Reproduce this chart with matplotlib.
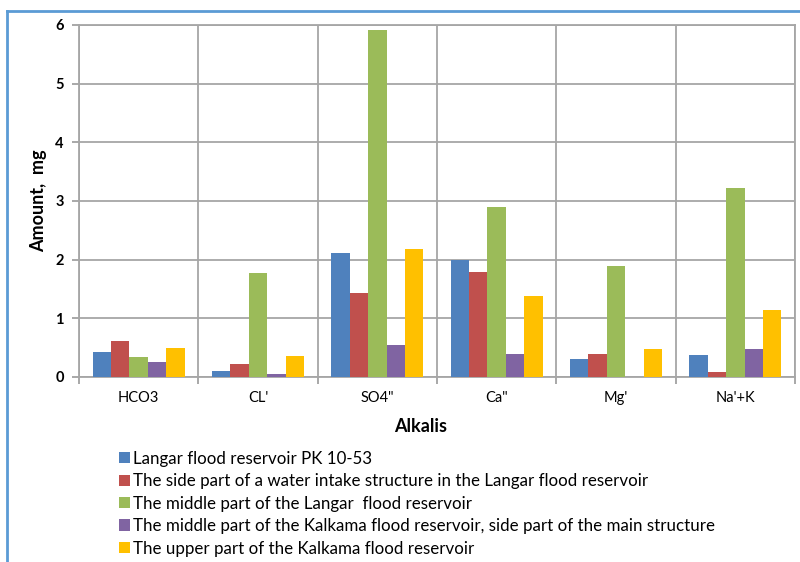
import matplotlib.pyplot as plt
from matplotlib.lines import Line2D
import numpy as np

plt.rcParams['font.family'] = ['Lato', 'DejaVu Sans']

categories = ["HCO3", "CL'", 'SO4"', 'Ca"', "Mg'", "Na'+K"]
series_names = [
    'Langar flood reservoir PK 10-53',
    'The side part of a water intake structure in the Langar flood reservoir',
    'The middle part of the Langar  flood reservoir',
    'The middle part of the Kalkama flood reservoir, side part of the main structure',
    'The upper part of the Kalkama flood reservoir',
]
langar_pk = [0.42, 0.11, 2.12, 1.99, 0.30, 0.37]
langar_side = [0.61, 0.23, 1.44, 1.79, 0.40, 0.085]
langar_middle = [0.335, 1.77, 5.91, 2.90, 1.89, 3.22]
kalkama_middle = [0.256, 0.045, 0.55, 0.40, 0.0, 0.47]
kalkama_upper = [0.495, 0.35, 2.18, 1.38, 0.48, 1.15]
series = [langar_pk, langar_side, langar_middle, kalkama_middle, kalkama_upper]
colors = ['#4F81BD', '#C0504D', '#9BBB59', '#8064A2', '#FFC000']

fig = plt.figure(figsize=(8, 5.62), dpi=100)
ax = fig.add_axes([79 / 800, 1 - 377 / 562, 716 / 800, 352 / 562])

x = np.arange(len(categories))
w = 0.154
handles = []
for k, (vals, col) in enumerate(zip(series, colors)):
    b = ax.bar(x + (k - 2) * w, vals, width=w, color=col, zorder=3)
    handles.append(b)

ax.set_xlim(-0.5, len(categories) - 0.5)
ax.set_ylim(0, 6)
ax.set_yticks(range(7))
ax.set_yticklabels([str(i) for i in range(7)], fontweight='bold', fontsize=10.5)
ax.set_xticks(x)
ax.set_xticklabels(categories, fontsize=10.5)
ax.set_xticks(np.arange(-0.5, len(categories)), minor=True)
ax.tick_params(axis='x', which='major', length=0, pad=10)
ax.tick_params(axis='x', which='minor', length=5, color='#999999', width=1.2)
ax.tick_params(axis='y', length=5, color='#999999', width=1.2, pad=6)
ax.grid(True, axis='y', color='#a6a6a6', linewidth=1.3, zorder=0)
ax.grid(True, axis='x', which='minor', color='#a6a6a6', linewidth=1.3, zorder=0)
for s in ax.spines.values():
    s.set_color('#a6a6a6')
    s.set_linewidth(1.3)

ax.set_ylabel('Amount,  mg', fontweight='bold', fontsize=13, labelpad=6)
fig.text(421 / 800, 1 - 426 / 562, 'Alkalis', fontweight='bold', fontsize=13,
         ha='center', va='center')

fig.legend(handles, series_names, loc='upper left',
           bbox_to_anchor=(112 / 800, 1 - 444 / 562), frameon=False,
           fontsize=12.2, handlelength=0.65, handleheight=0.65,
           handletextpad=0.2, labelspacing=0.38, borderaxespad=0)

# blue frame on top and left like the original screenshot
fig.add_artist(Line2D([7 / 800, 1], [1 - 11 / 562, 1 - 11 / 562], color='#5B9BD5', lw=2))
fig.add_artist(Line2D([7 / 800, 7 / 800], [0, 1 - 11 / 562], color='#5B9BD5', lw=2))

fig.savefig('out.png', dpi=100)
